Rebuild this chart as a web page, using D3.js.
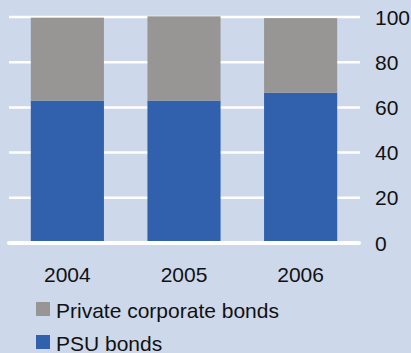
<html>
<script src="https://d3js.org/d3.v7.min.js"></script>
<body style="margin:0;background:#cdd8ea">
</body>
<script>
    // data
    const years = ["2004", "2005", "2006"];
    const psu = [63, 63, 66.5];
    const privateCorp = [36.7, 37.3, 33];
    const ticks = [0, 20, 40, 60, 80, 100];
    const seriesNames = ["Private corporate bonds", "PSU bonds"];

    const width = 411, height = 353;
    const colors = {"PSU bonds": "#3161ac", "Private corporate bonds": "#979694"};

    let svg = d3.select("body").append("svg")
        .attr("width", width)
        .attr("height", height)
        .style("font-family", "Liberation Sans, Arial, sans-serif");

    svg.append("rect").attr("width", width).attr("height", height).attr("fill", "#cdd8ea");

    let x = d3.scaleBand()
        .domain(years)
        .range([9, 359])
        .paddingInner(0.373)
        .paddingOuter(0.187);

    let y = d3.scaleLinear()
        .domain([0, 100])
        .range([243, 17]);

    // gridlines
    svg.selectAll(".grid")
        .data(ticks.filter(t => t > 0))
        .join("line")
        .attr("class", "grid")
        .attr("x1", 9).attr("x2", 360)
        .attr("y1", d => y(d)).attr("y2", d => y(d))
        .attr("stroke", "white")
        .attr("stroke-width", 2.5);

    let rows = years.map((yr, i) => ({year: yr, psu: psu[i], priv: privateCorp[i]}));

    // PSU bars
    svg.selectAll(".psu")
        .data(rows)
        .join("rect")
        .attr("class", "psu")
        .attr("x", d => x(d.year))
        .attr("width", x.bandwidth())
        .attr("y", d => y(d.psu))
        .attr("height", d => y(0) - y(d.psu))
        .attr("fill", colors["PSU bonds"]);

    // private bars stacked on top
    svg.selectAll(".priv")
        .data(rows)
        .join("rect")
        .attr("class", "priv")
        .attr("x", d => x(d.year))
        .attr("width", x.bandwidth())
        .attr("y", d => y(d.psu + d.priv))
        .attr("height", d => y(d.psu) - y(d.psu + d.priv))
        .attr("fill", colors["Private corporate bonds"]);

    // zero line
    svg.append("line")
        .attr("x1", 9).attr("x2", 359)
        .attr("y1", y(0)).attr("y2", y(0))
        .attr("stroke", "white")
        .attr("stroke-width", 4)
        .attr("stroke-linecap", "round");

    // y tick labels
    svg.selectAll(".ticklabel")
        .data(ticks)
        .join("text")
        .attr("class", "ticklabel")
        .attr("x", 375)
        .attr("y", d => y(d) + 7.5)
        .attr("font-size", 21)
        .attr("fill", "#111")
        .text(d => d);

    // year labels
    svg.selectAll(".yearlabel")
        .data(years)
        .join("text")
        .attr("class", "yearlabel")
        .attr("x", d => x(d) + x.bandwidth() / 2)
        .attr("y", 282)
        .attr("text-anchor", "middle")
        .attr("font-size", 21)
        .attr("fill", "#111")
        .text(d => d);

    // legend
    let legend = svg.selectAll(".legend")
        .data(seriesNames)
        .join("g")
        .attr("class", "legend")
        .attr("transform", (d, i) => `translate(36, ${302 + i * 33})`);
    legend.append("rect")
        .attr("width", 14).attr("height", 14)
        .attr("fill", d => colors[d]);
    legend.append("text")
        .attr("x", 20)
        .attr("y", 15.5)
        .attr("font-size", 21)
        .attr("fill", "#111")
        .text(d => d);
</script>
</html>
